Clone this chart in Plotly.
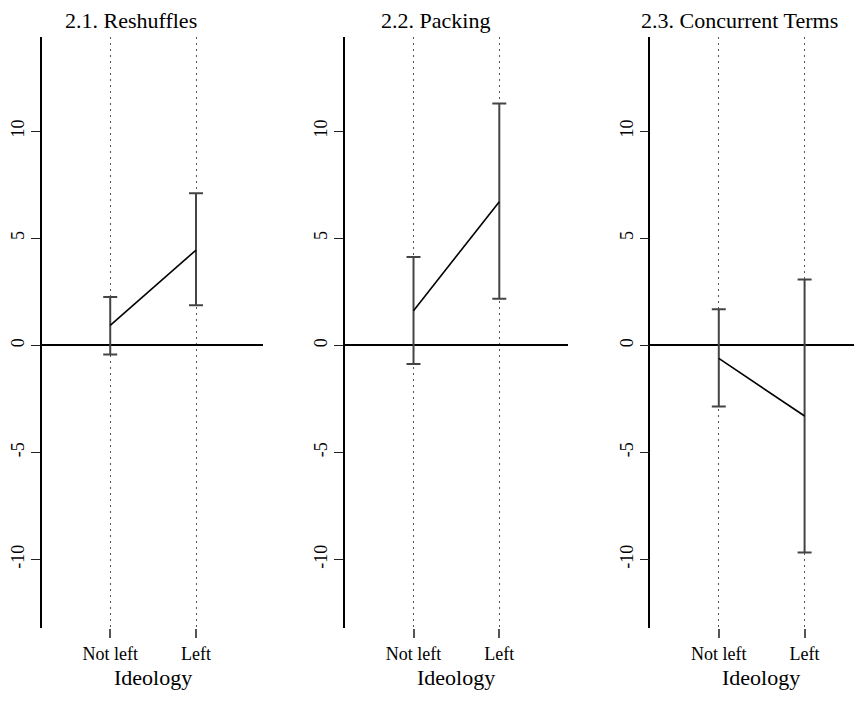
import plotly.graph_objects as go

# ---- data ----
categories = ["Not left", "Left"]
panel_titles = ["2.1. Reshuffles", "2.2. Packing", "2.3. Concurrent Terms"]
estimates = [
    [0.93, 4.45],
    [1.62, 6.71],
    [-0.61, -3.30],
]
lower_ci = [
    [-0.43, 1.87],
    [-0.87, 2.18],
    [-2.85, -9.67],
]
upper_ci = [
    [2.26, 7.10],
    [4.13, 11.29],
    [1.68, 3.07],
]
y_ticks = [-10, -5, 0, 5, 10]
x_title = "Ideology"

# page body has an 8px margin, so the figure is placed at (8, 8)
OFF = 8
W, H = 862 - OFF, 710 - 2 * OFF
FONT = "Liberation Serif, Times New Roman, serif"

# plot-area geometry in window px
x_domains_px = [(40, 262), (344, 567), (650, 862)]
y_top, y_bot = 37, 628
px_per_cat = 86.0
title_centers_px = [129, 434, 739]
xtitle_centers_px = [151, 455.5, 761]


def px_x(v):
    return (v - OFF) / W


def px_y(v):
    return 1 - (v - OFF) / H


fig = go.Figure()
layout = dict(
    width=W, height=H,
    margin=dict(l=0, r=0, t=0, b=0),
    plot_bgcolor="white", paper_bgcolor="white",
    showlegend=False,
    font=dict(family=FONT, color="black"),
)

annotations = []
for i in range(3):
    suffix = "" if i == 0 else str(i + 1)
    est = estimates[i]
    up = [u - e for u, e in zip(upper_ci[i], est)]
    dn = [e - l for e, l in zip(est, lower_ci[i])]
    fig.add_trace(go.Scatter(
        x=categories, y=est, mode="lines",
        line=dict(color="black", width=1.6),
        error_y=dict(type="data", array=up, arrayminus=dn, visible=True,
                     color="#444444", thickness=2, width=7),
        xaxis="x" + suffix, yaxis="y" + suffix,
        hoverinfo="skip",
    ))
    x0, x1 = x_domains_px[i]
    left = -0.796
    right = left + (x1 - x0) / px_per_cat
    layout["xaxis" + suffix] = dict(
        domain=[max(0, px_x(x0)), min(1, px_x(x1))],
        anchor="y" + suffix,
        type="category",
        categoryorder="array", categoryarray=categories,
        range=[left, right],
        showline=False, zeroline=False,
        showgrid=True, gridcolor="#555555", gridwidth=1, griddash="2px,4px",
        ticks="outside", ticklen=9, tickwidth=1.5, tickcolor="#555555",
        tickfont=dict(family=FONT, size=18, color="black"),
        fixedrange=True,
    )
    layout["yaxis" + suffix] = dict(
        domain=[px_y(y_bot), px_y(y_top)],
        anchor="x" + suffix,
        range=[-13.2, 14.4],
        showline=True, linecolor="black", linewidth=1.5,
        showgrid=False,
        zeroline=True, zerolinecolor="black", zerolinewidth=1.5,
        tickvals=y_ticks, ticktext=[str(t) for t in y_ticks],
        ticks="outside", ticklen=9, tickwidth=1.3, tickcolor="#222222",
        tickangle=-90,
        tickfont=dict(family=FONT, size=18, color="black"),
        fixedrange=True,
    )
    annotations.append(dict(
        text=panel_titles[i], xref="paper", yref="paper",
        x=px_x(title_centers_px[i]), y=px_y(21),
        xanchor="center", yanchor="middle", showarrow=False,
        font=dict(family=FONT, size=22, color="black"),
    ))
    annotations.append(dict(
        text=x_title, xref="paper", yref="paper",
        x=px_x(xtitle_centers_px[i]), y=px_y(677),
        xanchor="center", yanchor="middle", showarrow=False,
        font=dict(family=FONT, size=22, color="black"),
    ))

layout["annotations"] = annotations
fig.update_layout(**layout)
fig.write_html("out.html")
